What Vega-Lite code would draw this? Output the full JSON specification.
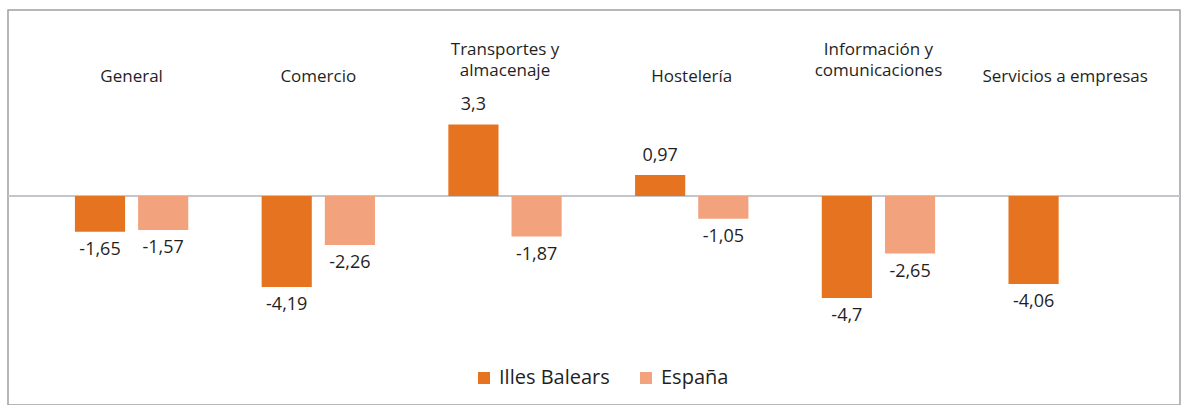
{
  "$schema": "https://vega.github.io/schema/vega-lite/v6.json",
  "width": 1172,
  "height": 395,
  "autosize": "none",
  "padding": {"left": 8, "top": 10, "right": 6, "bottom": 0},
  "background": "white",
  "config": {
    "locale": {"number": {"decimal": ",", "thousands": ".", "grouping": [3], "currency": ["", " €"], "minus": "-"}},
    "view": {"stroke": "#A0A0A0", "strokeWidth": 1.5},
    "font": "Open Sans"
  },
  "data": {
    "values": [
      {"categoria": "General", "serie": "Illes Balears", "valor": -1.65},
      {"categoria": "General", "serie": "España", "valor": -1.57},
      {"categoria": "Comercio", "serie": "Illes Balears", "valor": -4.19},
      {"categoria": "Comercio", "serie": "España", "valor": -2.26},
      {"categoria": "Transportes y almacenaje", "serie": "Illes Balears", "valor": 3.3},
      {"categoria": "Transportes y almacenaje", "serie": "España", "valor": -1.87},
      {"categoria": "Hostelería", "serie": "Illes Balears", "valor": 0.97},
      {"categoria": "Hostelería", "serie": "España", "valor": -1.05},
      {"categoria": "Información y comunicaciones", "serie": "Illes Balears", "valor": -4.7},
      {"categoria": "Información y comunicaciones", "serie": "España", "valor": -2.65},
      {"categoria": "Servicios a empresas", "serie": "Illes Balears", "valor": -4.06}
    ]
  },
  "layer": [
    {
      "mark": {"type": "rule", "color": "#C3C7CC", "strokeWidth": 1.5},
      "encoding": {"y": {"datum": 0, "type": "quantitative", "scale": {"domain": [-9.63, 8.57], "nice": false, "zero": false}, "axis": null}}
    },
    {
      "mark": {"type": "bar"},
      "encoding": {
        "x": {
          "field": "categoria", "type": "nominal", "sort": null,
          "scale": {"paddingInner": 0.393, "paddingOuter": 0.335, "align": 0.535},
          "axis": {
            "orient": "top", "offset": -78, "title": null, "domain": false, "ticks": false,
            "labelAngle": 0, "labelFontSize": 17, "labelColor": "#1F1F1F", "labelLineHeight": 21,
            "labelPadding": {"condition": {"test": "indexof(datum.value, ' y ') > 0", "value": 30}, "value": 3},
            "labelLimit": 400, "labelOverlap": false,
            "labelExpr": "datum.value == 'Transportes y almacenaje' ? ['Transportes y', 'almacenaje'] : datum.value == 'Información y comunicaciones' ? ['Información y', 'comunicaciones'] : datum.value"
          }
        },
        "xOffset": {"field": "serie", "type": "nominal", "sort": ["Illes Balears", "España"], "scale": {"paddingInner": 0.206, "paddingOuter": 0}},
        "y": {"field": "valor", "type": "quantitative", "scale": {"domain": [-9.63, 8.57], "nice": false, "zero": false}, "axis": null},
        "color": {
          "field": "serie", "type": "nominal",
          "scale": {"domain": ["Illes Balears", "España"], "range": ["#E6731F", "#F3A27E"]},
          "legend": {
            "orient": "none", "legendX": 466, "legendY": 358, "direction": "horizontal", "title": null,
            "symbolType": "square", "symbolSize": 144, "symbolStrokeWidth": 0,
            "labelFontSize": 20, "labelColor": "#1F1F1F", "columnPadding": 26, "labelOffset": 5
          }
        }
      }
    },
    {
      "transform": [{"filter": "datum.valor < 0"}],
      "mark": {"type": "text", "baseline": "top", "dy": 9, "fontSize": 18, "color": "#1F1F1F"},
      "encoding": {
        "x": {"field": "categoria", "type": "nominal", "sort": null},
        "xOffset": {"field": "serie", "type": "nominal", "sort": ["Illes Balears", "España"]},
        "y": {"field": "valor", "type": "quantitative"},
        "text": {"field": "valor", "type": "quantitative", "format": "~g"}
      }
    },
    {
      "transform": [{"filter": "datum.valor > 0"}],
      "mark": {"type": "text", "baseline": "bottom", "dy": -10, "fontSize": 18, "color": "#1F1F1F"},
      "encoding": {
        "x": {"field": "categoria", "type": "nominal", "sort": null},
        "xOffset": {"field": "serie", "type": "nominal", "sort": ["Illes Balears", "España"]},
        "y": {"field": "valor", "type": "quantitative"},
        "text": {"field": "valor", "type": "quantitative", "format": "~g"}
      }
    }
  ]
}
